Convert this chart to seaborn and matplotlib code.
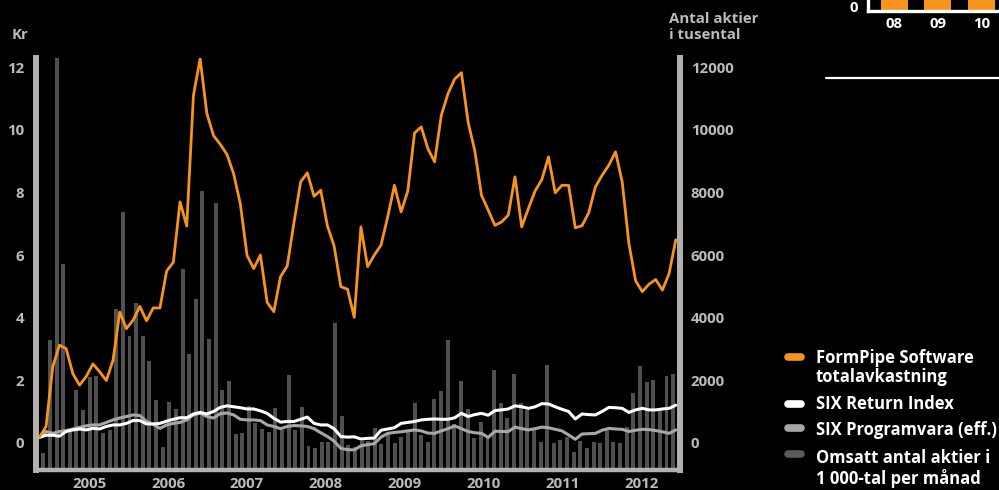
import numpy as np
import pandas as pd
import matplotlib
matplotlib.use("Agg")
import matplotlib.pyplot as plt
from matplotlib.lines import Line2D
import seaborn as sns

# ---------------- data ----------------
years = ["2005", "2006", "2007", "2008", "2009", "2010", "2011", "2012"]
year_pos = [7.0, 18.85, 30.7, 42.5, 54.4, 66.45, 78.3, 90.25]

formpipe = [0.17, 0.52, 2.43, 3.12, 3.01, 2.21, 1.84, 2.12, 2.52, 2.27, 1.99, 2.64,
            4.18, 3.65, 3.92, 4.36, 3.90, 4.31, 4.31, 5.49, 5.77, 7.70, 6.93, 11.10,
            12.28, 10.53, 9.82, 9.54, 9.22, 8.60, 7.64, 5.99, 5.57, 6.00, 4.49, 4.19,
            5.31, 5.65, 7.03, 8.34, 8.63, 7.88, 8.07, 6.93, 6.29, 4.99, 4.91, 4.01,
            6.90, 5.63, 6.00, 6.32, 7.22, 8.23, 7.38, 8.05, 9.90, 10.10, 9.40, 8.98,
            10.47, 11.16, 11.63, 11.83, 10.25, 9.33, 7.91, 7.44, 6.95, 7.06, 7.28, 8.50,
            6.90, 7.49, 8.05, 8.41, 9.14, 7.99, 8.23, 8.23, 6.87, 6.94, 7.35, 8.18,
            8.55, 8.87, 9.30, 8.34, 6.37, 5.18, 4.83, 5.07, 5.22, 4.88, 5.41, 6.49]

six_return = [0.17, 0.24, 0.24, 0.21, 0.36, 0.41, 0.44, 0.41, 0.46, 0.44, 0.52, 0.57,
              0.57, 0.62, 0.71, 0.71, 0.60, 0.60, 0.62, 0.69, 0.75, 0.80, 0.80, 0.92,
              0.97, 0.92, 1.00, 1.13, 1.18, 1.15, 1.12, 1.08, 1.08, 1.02, 0.94, 0.78,
              0.66, 0.68, 0.68, 0.75, 0.82, 0.62, 0.57, 0.57, 0.45, 0.20, 0.18, 0.19,
              0.12, 0.14, 0.15, 0.40, 0.44, 0.48, 0.62, 0.65, 0.68, 0.73, 0.75, 0.76,
              0.75, 0.75, 0.80, 0.94, 0.84, 0.90, 0.94, 0.88, 1.03, 1.05, 1.08, 1.18,
              1.15, 1.10, 1.15, 1.25, 1.24, 1.15, 1.07, 1.00, 0.76, 0.92, 0.90, 0.89,
              1.00, 1.13, 1.12, 1.10, 0.97, 1.05, 1.10, 1.05, 1.05, 1.08, 1.10, 1.20]

six_programvara = [0.17, 0.36, 0.30, 0.36, 0.39, 0.44, 0.49, 0.54, 0.57, 0.57, 0.65, 0.73,
                   0.79, 0.84, 0.89, 0.87, 0.68, 0.59, 0.46, 0.57, 0.62, 0.65, 0.73, 0.89,
                   0.95, 0.84, 0.79, 0.93, 0.95, 0.89, 0.75, 0.73, 0.73, 0.71, 0.57, 0.52,
                   0.45, 0.52, 0.55, 0.54, 0.52, 0.45, 0.32, 0.20, 0.05, -0.18, -0.22, -0.23,
                   -0.10, -0.06, -0.03, 0.18, 0.30, 0.33, 0.35, 0.38, 0.41, 0.38, 0.31, 0.30,
                   0.38, 0.45, 0.54, 0.45, 0.36, 0.32, 0.30, 0.17, 0.37, 0.36, 0.36, 0.50,
                   0.45, 0.41, 0.45, 0.50, 0.48, 0.43, 0.38, 0.25, 0.11, 0.28, 0.29, 0.30,
                   0.40, 0.46, 0.44, 0.43, 0.36, 0.40, 0.43, 0.42, 0.39, 0.35, 0.30, 0.41]

# bar tops as read on the right-hand axis (thousands of shares)
omsatt_tusental = [-340, 3300, 12300, 5730, 380, 1680, 1040, 2110, 2130, 300, 410, 4290,
                   7370, 3410, 4480, 3410, 2620, 1360, -150, 1310, 1070, 5540, 2830, 4610,
                   8040, 3330, 7660, 1680, 1980, 280, 320, 1170, 640, 450, 350, 1100,
                   410, 2160, 410, 1150, -100, -180, 10, 30, 3830, 860, -70, -130,
                   60, 60, 460, -50, 320, -20, 190, 400, 1260, 260, 40, 1400,
                   1670, 3270, 600, 1960, 1080, 160, 670, 140, 2330, 1260, 780, 2210,
                   1260, 1040, 410, 30, 2480, -20, 90, 190, -290, 60, -180, 30,
                   -20, 460, 30, -20, 510, 1580, 2460, 1950, 2000, 1040, 2140, 2190]

left_ticks = [0, 2, 4, 6, 8, 10, 12]
right_ticks = [0, 2000, 4000, 6000, 8000, 10000, 12000]

legend_labels = ["FormPipe Software\ntotalavkastning", "SIX Return Index",
                 "SIX Programvara (eff.)", "Omsatt antal aktier i\n1 000-tal per månad"]

# fragment of a neighbouring chart (top-right corner)
frag_cats = ["08", "09", "10"]
frag_vals = [50, 55, 60]

# ---------------- style ----------------
sns.set_theme(style="white")
plt.rcParams["font.family"] = ["Open Sans", "DejaVu Sans"]
plt.rcParams["font.weight"] = "bold"

BG = "#000000"
ORANGE = "#f7941d"
WHITE = "#ffffff"
LGRAY = "#a9a7a5"
BARC = "#505050"
FRAME = "#b3b0ad"
TXT = "#bdbab7"
FS = 10.8

W, H = 999, 490
fig = plt.figure(figsize=(W / 100, H / 100), dpi=100, facecolor=BG)

def fx(px):
    return px / W

def fy(py):
    return 1 - py / H

ax_l, ax_r, ax_t, ax_b = 35.7, 680.3, 58.0, 469.5
ax = fig.add_axes([fx(ax_l), fy(ax_b), fx(ax_r - ax_l), (ax_b - ax_t) / H])
ax.set_facecolor(BG)

y_lo, y_hi = -0.855, 12.3
n = len(omsatt_tusental)

# bars (from the bottom of the frame)
bars = pd.DataFrame({"m": np.arange(n),
                     "h": np.array(omsatt_tusental) / 1000.0 - y_lo})
sns.barplot(data=bars, x="m", y="h", ax=ax, color=BARC, saturation=1,
            width=0.6, errorbar=None, bottom=y_lo, zorder=1,
            edgecolor="none", linewidth=0)

# lines
line_x = np.linspace(-0.6, 95.4, len(formpipe))
sns.lineplot(x=line_x, y=six_programvara, ax=ax, color=LGRAY, linewidth=2.2,
             sort=False, zorder=3)
sns.lineplot(x=line_x, y=six_return, ax=ax, color=WHITE, linewidth=2.2,
             sort=False, zorder=4)
sns.lineplot(x=line_x, y=formpipe, ax=ax, color=ORANGE, linewidth=2.0,
             sort=False, zorder=5)

ax.set_xlim(-1.15, 96.08)
ax.set_ylim(y_lo, y_hi)
ax.set_xlabel("")
ax.set_ylabel("")

for s in ["left", "right", "bottom"]:
    ax.spines[s].set_color(FRAME)
    ax.spines[s].set_visible(True)
ax.spines["left"].set_linewidth(4.3)
ax.spines["right"].set_linewidth(4.3)
ax.spines["bottom"].set_linewidth(3.2)
ax.spines["top"].set_visible(False)

ax.set_yticks(left_ticks)
ax.set_yticklabels([str(t) for t in left_ticks])
ax.set_xticks(year_pos)
ax.set_xticklabels(years)
ax.tick_params(axis="y", length=0, pad=8.4, labelcolor=TXT, labelsize=FS)
ax.tick_params(axis="x", length=0, pad=5.5, labelcolor=TXT, labelsize=FS)
for lab in ax.get_xticklabels() + ax.get_yticklabels():
    lab.set_fontweight("bold")
ax.grid(False)

sec = ax.secondary_yaxis("right", functions=(lambda v: v * 1000, lambda v: v / 1000))
sec.set_yticks(right_ticks)
sec.set_yticklabels([str(t) for t in right_ticks])
sec.tick_params(length=0, pad=7.5, labelcolor=TXT, labelsize=FS)
sec.spines["right"].set_visible(False)
for lab in sec.get_yticklabels():
    lab.set_fontweight("bold")

# axis titles
fig.text(fx(12), fy(35), "Kr", color=TXT, fontsize=FS, fontweight="bold",
         ha="left", va="center")
fig.text(fx(669), fy(27), "Antal aktier\ni tusental", color=TXT, fontsize=FS,
         fontweight="bold", ha="left", va="center", linespacing=1.2)

# legend (manual)
leg_colors = [ORANGE, WHITE, LGRAY, "#5a5a5a"]
leg_marker_y = [357, 403.5, 427.5, 454]
leg_text_y = [367.5, 404, 430, 468.5]
for c, my, ty, lab in zip(leg_colors, leg_marker_y, leg_text_y, legend_labels):
    fig.add_artist(Line2D([fx(788), fx(801)], [fy(my), fy(my)], color=c, lw=5.5,
                          solid_capstyle="round", transform=fig.transFigure))
    fig.text(fx(816), fy(ty), lab, color=WHITE, fontsize=12, fontweight="bold",
             ha="left", va="center", linespacing=1.08)

# neighbouring chart fragment (cut by the top edge)
fr_l, fr_b = 867.5, 11.0
axf = fig.add_axes([fx(fr_l), fy(fr_b), fx(1100 - fr_l), 120 / H])
axf.set_facecolor("none")
sns.barplot(x=frag_cats, y=frag_vals, ax=axf, color=ORANGE, saturation=1,
            width=0.62, errorbar=None, edgecolor="none", linewidth=0)
axf.set_xlim(-0.61, 4.71)
axf.set_ylim(0, 100)
for s in ["top", "right"]:
    axf.spines[s].set_visible(False)
for s in ["left", "bottom"]:
    axf.spines[s].set_color(WHITE)
    axf.spines[s].set_linewidth(2.4)
axf.set_yticks([])
axf.tick_params(length=0, labelcolor=WHITE, labelsize=FS)
axf.tick_params(axis="x", pad=4)
for lab in axf.get_xticklabels():
    lab.set_fontweight("bold")
axf.set_xlabel("")
axf.set_ylabel("")
fig.text(fx(858), fy(7.5), "0", color=WHITE, fontsize=FS, fontweight="bold",
         ha="right", va="center")
fig.add_artist(Line2D([fx(826), fx(999)], [fy(78), fy(78)], color=WHITE, lw=1.6,
                      transform=fig.transFigure))

fig.savefig("out.png", dpi=100, facecolor=BG)
